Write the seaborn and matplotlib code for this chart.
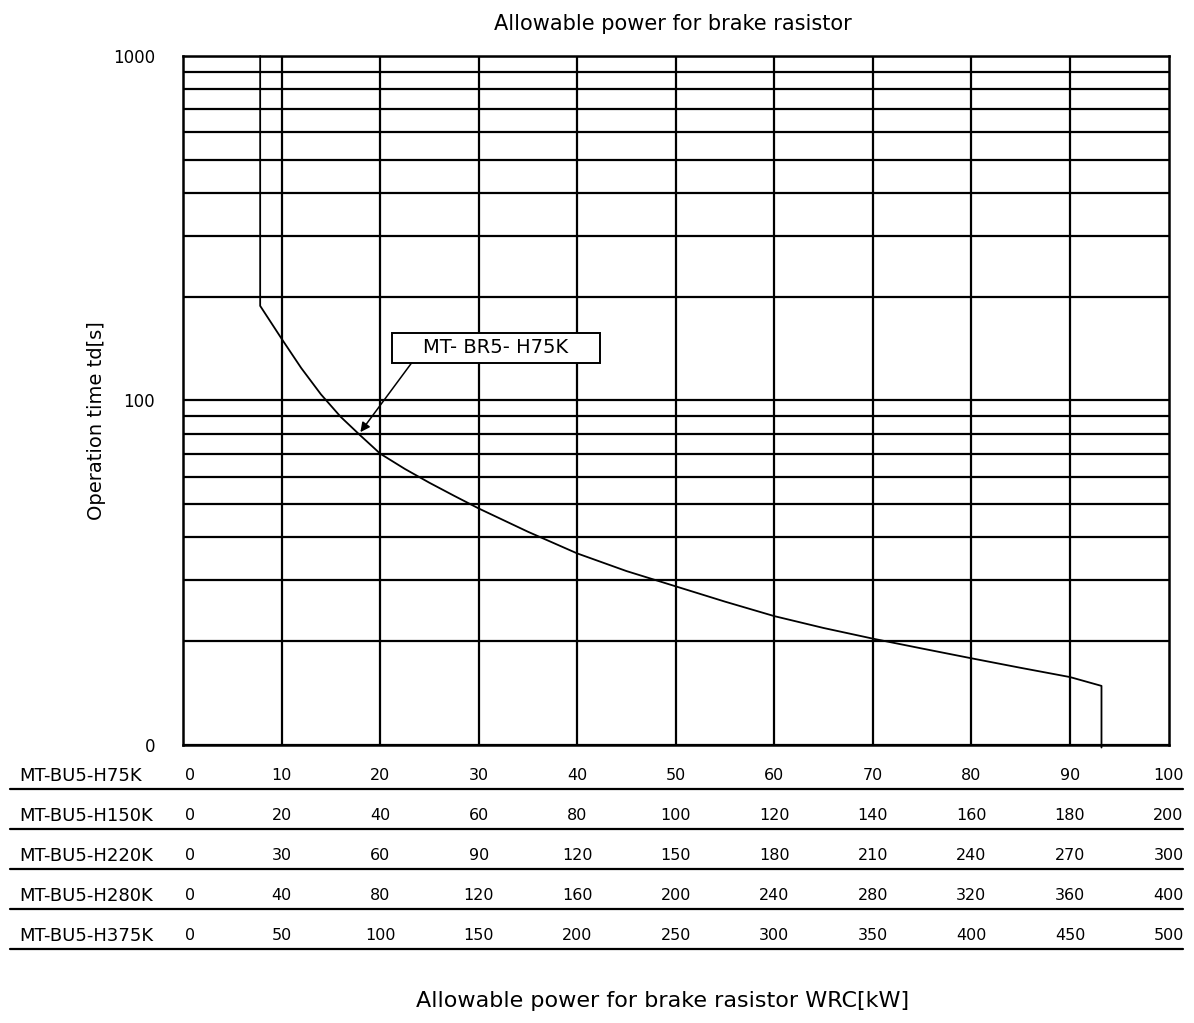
import matplotlib
matplotlib.use("Agg")
import matplotlib.pyplot as plt
import seaborn as sns
import numpy as np
from matplotlib.lines import Line2D
from matplotlib.patches import Rectangle
from matplotlib.transforms import blended_transform_factory

# ---------------- data ----------------
curve_x = [7.83, 7.83, 10, 12, 14, 16, 18, 20, 22.5, 25, 27.5, 30, 35, 40, 45, 50,
           55, 60, 65, 70, 75, 80, 85, 90, 93.2, 93.2]
curve_y = [1000, 188, 151, 124, 104, 89.5, 79, 70, 63.2, 57.6, 52.8, 48.5, 41.5, 35.9, 31.9, 28.8,
           26.0, 23.6, 21.8, 20.3, 19.0, 17.8, 16.7, 15.7, 14.8, 9.8]

y_ticks = [10, 100, 1000]
y_tick_labels = ["0", "100", "1000"]
x_grid = [10, 20, 30, 40, 50, 60, 70, 80, 90]

table_positions = [0, 10, 20, 30, 40, 50, 60, 70, 80, 90, 100]
row_labels = ["MT-BU5-H75K", "MT-BU5-H150K", "MT-BU5-H220K", "MT-BU5-H280K", "MT-BU5-H375K"]
row_h75 = ["0", "10", "20", "30", "40", "50", "60", "70", "80", "90", "100"]
row_h150 = ["0", "20", "40", "60", "80", "100", "120", "140", "160", "180", "200"]
row_h220 = ["0", "30", "60", "90", "120", "150", "180", "210", "240", "270", "300"]
row_h280 = ["0", "40", "80", "120", "160", "200", "240", "280", "320", "360", "400"]
row_h375 = ["0", "50", "100", "150", "200", "250", "300", "350", "400", "450", "500"]
rows = [row_h75, row_h150, row_h220, row_h280, row_h375]

annot_label = "MT- BR5- H75K"
annot_tip = (18, 80.8)
annot_start = (23.2, 128.4)

title = "Allowable power for brake rasistor"
xlabel = "Allowable power for brake rasistor WRC[kW]"
ylabel = "Operation time td[s]"

# ---------------- style ----------------
sns.set_style("white")
plt.rcParams["font.family"] = ["DejaVu Sans"]
plt.rcParams["text.color"] = "black"
plt.rcParams["ytick.color"] = "black"
plt.rcParams["xtick.color"] = "black"

W, H = 1194, 1023
fig = plt.figure(figsize=(W / 100, H / 100), dpi=100)
ax_l, ax_r, ax_t, ax_b = 183, 1168.5, 56, 744.5
ax = fig.add_axes([ax_l / W, 1 - ax_b / H, (ax_r - ax_l) / W, (ax_b - ax_t) / H])

ax.set_yscale("log")
ax.set_xlim(0, 100)
ax.set_ylim(10, 1000)

# grid
ax.set_xticks(x_grid)
ax.set_xticklabels([])
ax.set_yticks(y_ticks)
ax.set_yticklabels(y_tick_labels, fontsize=12)
ax.yaxis.set_minor_locator(matplotlib.ticker.LogLocator(base=10, subs=np.arange(2, 10)))
ax.yaxis.set_minor_formatter(matplotlib.ticker.NullFormatter())
ax.tick_params(axis="both", which="both", length=0)
ax.tick_params(axis="y", pad=20)
ax.grid(True, which="both", axis="both", color="black", lw=1.6)
ax.set_axisbelow(True)
for s in ax.spines.values():
    s.set_color("black")
    s.set_linewidth(1.8)

# curve
sns.lineplot(x=curve_x, y=curve_y, sort=False, estimator=None, color="black",
             lw=1.3, ax=ax, clip_on=False)

# annotation box + arrow
x0, x1 = 21.16, 42.35
y0, y1 = 128.4, 156.7
ax.add_patch(Rectangle((x0, y0), x1 - x0, y1 - y0, fc="white", ec="black", lw=1.4, zorder=5))
ax.text((x0 + x1) / 2, np.sqrt(y0 * y1), annot_label, ha="center", va="center",
        fontsize=14, zorder=6)
ax.annotate("", xy=annot_tip, xytext=annot_start,
            arrowprops=dict(arrowstyle="-|>", color="black", lw=1.1,
                            mutation_scale=14, shrinkA=0, shrinkB=0), zorder=6)

# labels
fig.text(673 / W, 1 - 24 / H, title, ha="center", va="center", fontsize=15)
fig.text(663 / W, 1 - 1001 / H, xlabel, ha="center", va="center", fontsize=16)
fig.text(97 / W, 1 - 421 / H, ylabel, ha="center", va="center", rotation=90, fontsize=14)

# table below the axis
trans = blended_transform_factory(ax.transData, fig.transFigure)
line_y = [789, 829, 869, 909, 949]
for lab, vals, ly in zip(row_labels, rows, line_y):
    ty = 1 - (ly - 13) / H
    fig.text(19 / W, ty, lab, ha="left", va="center", fontsize=13)
    for j, (xp, v) in enumerate(zip(table_positions, vals)):
        if j == 0:
            ax.text(xp + 0.2, ty, v, ha="left", va="center", fontsize=11.5,
                    transform=trans, clip_on=False)
        else:
            ax.text(xp, ty, v, ha="center", va="center", fontsize=11.5,
                    transform=trans, clip_on=False)
    fig.add_artist(Line2D([10 / W, 1183 / W], [1 - ly / H, 1 - ly / H],
                          color="black", lw=1.6))

fig.savefig("out.png", dpi=100, facecolor="white")
